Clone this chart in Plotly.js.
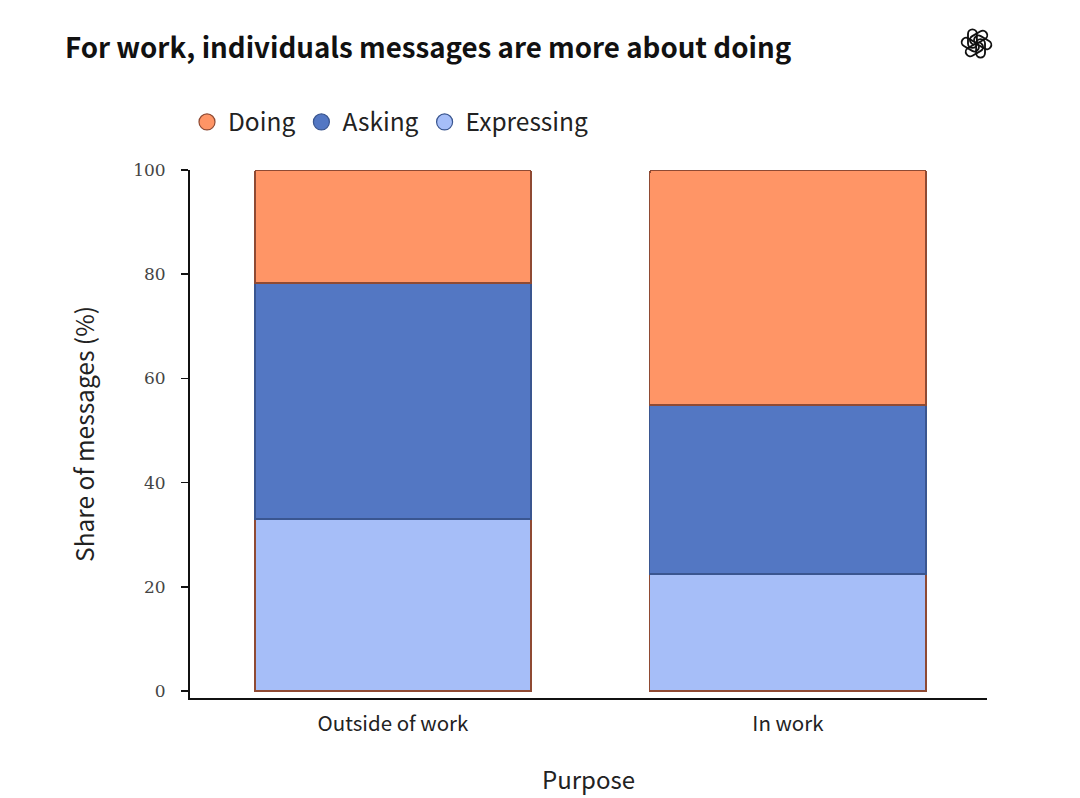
<!DOCTYPE html>
<html>
<head>
<meta charset="utf-8">
<script src="https://cdn.plot.ly/plotly-3.0.1.min.js"></script>
<style>html,body{margin:0;padding:0;background:#fff;}#chart{width:1080px;height:798px;}</style>
</head>
<body>
<div id="chart"></div>
<script>
const categories = ["Outside of work", "In work"];
const seriesNames = ["Expressing", "Asking", "Doing"];
const expressing = [33.0, 22.5];
const asking = [45.3, 32.4];
const doing = [21.7, 45.1];
const yTicks = [0, 20, 40, 60, 80, 100];

const fillColors = {Doing: "#ff9566", Asking: "#5377c3", Expressing: "#a6bef8"};
const lineColors = {Doing: "#8f4a33", Asking: "#3a5690", Expressing: "#8f4a33"};
const legendLine = {Doing: "#8f4a33", Asking: "#3a5690", Expressing: "#3a5690"};
const values = {Expressing: expressing, Asking: asking, Doing: doing};

const F = "'Noto Sans CJK SC', 'Noto Sans', sans-serif";

const traces = [];
seriesNames.forEach(name => {
  traces.push({
    type: "bar", name: name, x: categories, y: values[name],
    width: 0.7, showlegend: false,
    marker: {color: fillColors[name], line: {color: lineColors[name], width: 1.5}},
    hoverinfo: "skip"
  });
});
["Doing", "Asking", "Expressing"].forEach(name => {
  traces.push({
    type: "scatter", mode: "markers", name: name, x: [null], y: [null],
    marker: {symbol: "circle", size: 18, color: fillColors[name], line: {color: legendLine[name], width: 1.2}},
    showlegend: true
  });
});

const logoSvg = (() => {
  let g = "";
  for (let i = 0; i < 6; i++) {
    g += `<g transform="rotate(${i*60} 50 50)"><rect x="27" y="12" width="24" height="50" rx="12" ry="12" fill="none" stroke="#111" stroke-width="5"/></g>`;
  }
  return `<svg xmlns="http://www.w3.org/2000/svg" width="100" height="100" viewBox="0 0 100 100">${g}</svg>`;
})();

const layout = {
  width: 1080, height: 798,
  paper_bgcolor: "#fff", plot_bgcolor: "#fff",
  margin: {l: 190, r: 93, t: 170, b: 100},
  barmode: "stack",
  barcornerradius: 3,
  title: {
    text: "<b>For work, individuals messages are more about doing</b>",
    font: {family: F, size: 27.7, color: "#111"},
    x: 65/1080, xanchor: "left", xref: "container",
    y: 1 - 48/798, yanchor: "middle", yref: "container"
  },
  legend: {
    orientation: "h", x: 186/1080, xref: "container", xanchor: "left",
    y: 1 - 122/798, yref: "container", yanchor: "middle",
    font: {family: F, size: 24.5, color: "#222"},
    itemwidth: 32, tracegroupgap: 0, traceorder: "normal"
  },
  xaxis: {
    type: "category", range: [-0.514, 1.504],
    showline: true, linecolor: "#111", linewidth: 2,
    ticks: "", showgrid: false, zeroline: false,
    ticklabelstandoff: 6,
    tickfont: {family: F, size: 20.5, color: "#222"},
    title: {text: "Purpose", font: {family: F, size: 24, color: "#222"}, standoff: 37}
  },
  yaxis: {
    range: [-1.35, 100], tickvals: yTicks, ticktext: yTicks.map(String),
    showline: true, linecolor: "#111", linewidth: 2,
    ticks: "outside", ticklen: 7, tickwidth: 1.5, tickcolor: "#111",
    showgrid: false, zeroline: false,
    ticklabelstandoff: 12,
    tickfont: {family: "'DejaVu Serif', 'Liberation Serif', serif", size: 17, color: "#444"},
    title: {text: "Share of messages (%)", font: {family: F, size: 24.5, color: "#222"}, standoff: 32}
  },
  images: [{
    source: "data:image/svg+xml;base64," + btoa(logoSvg),
    xref: "paper", yref: "paper",
    x: (958 - 190)/797, y: 1 + (170 - 25)/528,
    sizex: 37/797, sizey: 37/528, xanchor: "left", yanchor: "top"
  }]
};

Plotly.newPlot("chart", traces, layout, {displayModeBar: false, staticPlot: true});
</script>
</body>
</html>
